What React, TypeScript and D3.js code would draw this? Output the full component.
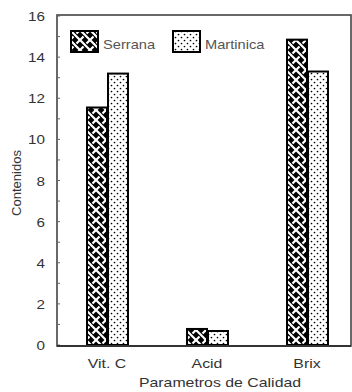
import React from "react";
import * as d3 from "d3";

const categories = ["Vit. C", "Acid", "Brix"];
const seriesNames = ["Serrana", "Martinica"];
const serrana = [11.55, 0.78, 14.85];
const martinica = [13.2, 0.68, 13.3];
const yTicks = [0, 2, 4, 6, 8, 10, 12, 14, 16];
const yMinorTicks = d3.range(0, 17, 1);
const xTitle = "Parametros de Calidad";
const yTitle = "Contenidos";

const W = 352;
const H = 392;
const left = 57;
const right = 351;
const top = 15;
const bottom = 346;
const SX = 1.22;

export default function App() {
  const y = d3.scaleLinear().domain([0, 16]).range([bottom - 1, top + 1]);
  const x0 = d3
    .scaleBand<string>()
    .domain(categories)
    .range([57, 357])
    .paddingInner(0.58)
    .paddingOuter(0.29);
  const x1 = d3
    .scaleBand<string>()
    .domain(seriesNames)
    .range([0, x0.bandwidth()]);
  const values = [serrana, martinica];
  const fills = ["url(#weave)", "url(#dots)"];
  const font = "'Liberation Sans', Arial, sans-serif";

  const stretched = (
    tx: number,
    ty: number,
    text: string,
    size: number,
    anchor: string,
    color: string,
    key?: string
  ) => (
    <g key={key} transform={`translate(${tx},${ty}) scale(${SX},1)`}>
      <text
        x={0}
        y={0}
        fontSize={size}
        fontFamily={font}
        textAnchor={anchor}
        fill={color}
      >
        {text}
      </text>
    </g>
  );

  return (
    <svg
      width={W}
      height={H}
      style={{ position: "absolute", left: 0, top: 0, background: "#fff" }}
    >
      <defs>
        <pattern id="weave" width="10" height="10" patternUnits="userSpaceOnUse">
          <rect width="10" height="10" fill="#000" />
          <path d="M0,0 L10,10 M-3,7 L3,13 M7,-3 L13,3" stroke="#fff" strokeWidth="2.2" />
          <path d="M10,0 L6.5,3.5 M3.5,6.5 L0,10 M-2,2 L2,-2 M8,12 L12,8" stroke="#fff" strokeWidth="2.2" />
        </pattern>
        <pattern id="dots" width="6" height="6" patternUnits="userSpaceOnUse">
          <rect width="6" height="6" fill="#fff" />
          <circle cx="1.5" cy="1.5" r="0.85" fill="#000" />
          <circle cx="4.5" cy="4.5" r="0.85" fill="#000" />
        </pattern>
      </defs>

      {/* frame */}
      <rect
        x={left}
        y={top}
        width={right - left}
        height={bottom - top}
        fill="none"
        stroke="#444"
        strokeWidth={1.6}
      />

      {/* minor ticks */}
      {yMinorTicks.map((t) => (
        <line
          key={"m" + t}
          x1={left}
          x2={left + 3}
          y1={y(t)}
          y2={y(t)}
          stroke="#666"
          strokeWidth={1}
        />
      ))}

      {/* y tick labels */}
      {yTicks.map((t) =>
        stretched(45, y(t) + 5, String(t), 12.5, "end", "#333", "t" + t)
      )}

      {/* bars */}
      {categories.map((c, i) => (
        <g key={c} transform={`translate(${x0(c)},0)`}>
          {seriesNames.map((s, j) => (
            <rect
              key={s}
              x={(x1(s) as number) + 1}
              y={y(values[j][i])}
              width={x1.bandwidth() - 1}
              height={y(0) - y(values[j][i])}
              fill={fills[j]}
              stroke="#000"
              strokeWidth={2}
            />
          ))}
        </g>
      ))}

      {/* bottom axis line on top */}
      <line x1={left} x2={right} y1={bottom} y2={bottom} stroke="#333" strokeWidth={2} />

      {/* category labels */}
      {categories.map((c) =>
        stretched(
          (x0(c) as number) + x0.bandwidth() / 2,
          368,
          c,
          13,
          "middle",
          "#333",
          "c" + c
        )
      )}

      {/* axis titles */}
      {stretched(220, 387, xTitle, 13, "middle", "#333")}
      <text
        transform={`translate(21,183) rotate(-90)`}
        fontSize={13}
        fontFamily={font}
        textAnchor="middle"
        fill="#333"
      >
        {yTitle}
      </text>

      {/* legend */}
      <rect x={71} y={31} width={27} height={21} fill="url(#weave)" stroke="#000" strokeWidth={2} />
      {stretched(103, 49, seriesNames[0], 12, "start", "#555")}
      <rect x={173} y={31} width={27} height={21} fill="url(#dots)" stroke="#000" strokeWidth={2} />
      {stretched(205, 49, seriesNames[1], 12, "start", "#555")}
    </svg>
  );
}
